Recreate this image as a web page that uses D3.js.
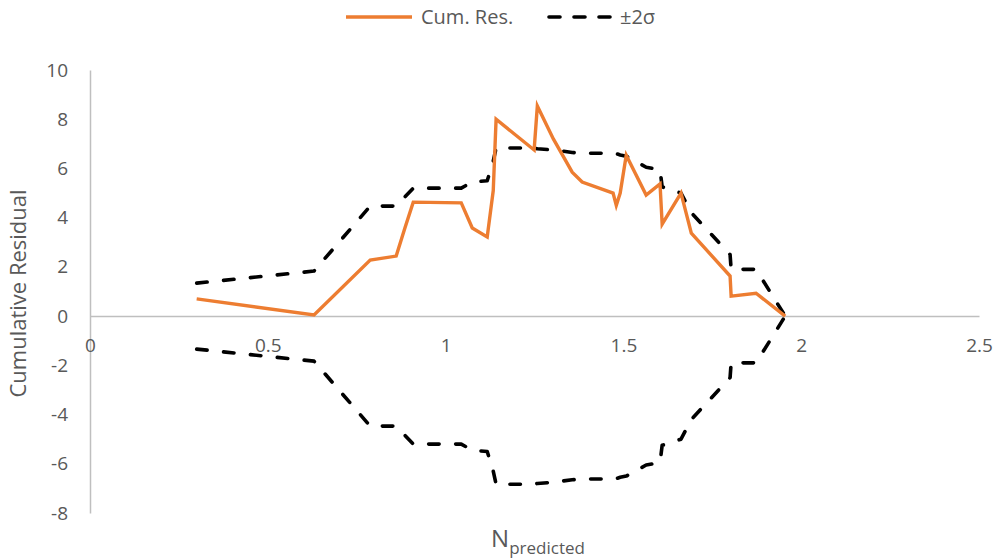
<!DOCTYPE html>
<html>
<head>
<meta charset="utf-8">
<script src="https://cdn.jsdelivr.net/npm/d3@7"></script>
<style>
  html, body { margin: 0; padding: 0; background: #fff; }
  svg { display: block; font-family: "Open Sans", "Noto Sans", sans-serif; }
</style>
</head>
<body>
<svg id="chart" width="1002" height="558"></svg>
<script>
// Predicted count at each observation
const nPredicted = [0.30, 0.63, 0.788, 0.861, 0.886, 0.909, 1.044, 1.075, 1.117, 1.134, 1.142,
  1.249, 1.258, 1.303, 1.356, 1.384, 1.471, 1.48, 1.491, 1.508, 1.564, 1.603, 1.609,
  1.662, 1.691, 1.80, 1.803, 1.873, 1.955];
// Cumulative residual
const cumRes = [0.70, 0.05, 2.28, 2.44, 3.60, 4.63, 4.60, 3.58, 3.22, 5.10, 8.00,
  6.75, 8.54, 7.20, 5.85, 5.45, 5.00, 4.50, 5.00, 6.54, 4.92, 5.37, 3.74,
  5.00, 3.37, 1.63, 0.81, 0.93, 0.00];
// Two standard deviations of the cumulative residual
const twoSigma = [1.34, 1.83, 4.47, 4.47, 4.85, 5.20, 5.20, 5.45, 5.50, 6.30, 6.83,
  6.83, 6.80, 6.75, 6.65, 6.62, 6.62, 6.60, 6.55, 6.50, 6.05, 5.95, 5.25,
  5.00, 4.20, 2.50, 1.90, 1.90, 0.00];

const xTicks = [0, 0.5, 1, 1.5, 2, 2.5];
const yTicks = [-8, -6, -4, -2, 0, 2, 4, 6, 8, 10];

const svg = d3.select("#chart");
const textColor = "#595959";
const axisColor = "#bfbfbf";
const orange = "#ed7d31";

const x = d3.scaleLinear().domain([0, 2.5]).range([90, 979]);
const y = d3.scaleLinear().domain([-8, 10]).range([513, 70]);

// Vertical axis at x = 0
const yAxis = svg.append("g")
  .attr("transform", `translate(${x(0)},0)`)
  .call(d3.axisLeft(y).tickValues(yTicks).tickSize(0).tickPadding(22).tickFormat(d => String(d)));
yAxis.select(".domain").attr("stroke", axisColor).attr("stroke-width", 1.5);
yAxis.selectAll("text").attr("fill", textColor).style("font-size", "19px")
  .style("font-family", "'Open Sans', sans-serif");

// Horizontal axis at y = 0, labels set below it
const xAxis = svg.append("g")
  .attr("transform", `translate(0,${y(0)})`)
  .call(d3.axisBottom(x).tickValues(xTicks).tickSize(0).tickPadding(22).tickFormat(d => String(d)));
xAxis.select(".domain").attr("stroke", axisColor).attr("stroke-width", 1.5);
xAxis.selectAll("text").attr("fill", textColor).style("font-size", "19px")
  .style("font-family", "'Open Sans', sans-serif");

const pts = nPredicted.map((n, i) => ({ n, r: cumRes[i], s: twoSigma[i] }));

const line = d3.line().x(d => x(d[0])).y(d => y(d[1]));

// ±2σ bounds
const dash = { stroke: "#000", "stroke-width": 3.6, "stroke-dasharray": "10.5 16.5", "stroke-linecap": "round", "stroke-linejoin": "round", fill: "none" };
[1, -1].forEach(sign => {
  const p = svg.append("path").attr("d", line(pts.map(d => [d.n, sign * d.s])));
  Object.entries(dash).forEach(([k, v]) => p.attr(k, v));
});

// Cumulative residual
svg.append("path")
  .attr("d", line(pts.map(d => [d.n, d.r])))
  .attr("fill", "none").attr("stroke", orange).attr("stroke-width", 3.4)
  .attr("stroke-linejoin", "miter");

// Axis titles
svg.append("text")
  .attr("transform", `translate(26,${(y(10) + y(-8)) / 2 + 2}) rotate(-90)`)
  .attr("text-anchor", "middle").attr("fill", textColor)
  .style("font-size", "22px").text("Cumulative Residual");

const xt = svg.append("text")
  .attr("x", 538).attr("y", 547).attr("text-anchor", "middle").attr("fill", textColor);
xt.append("tspan").style("font-size", "24px").text("N");
xt.append("tspan").attr("dy", 7).style("font-size", "17px").text("predicted");

// Legend
const lg = svg.append("g");
lg.append("line").attr("x1", 346).attr("x2", 412).attr("y1", 17).attr("y2", 17)
  .attr("stroke", orange).attr("stroke-width", 3.4);
lg.append("text").attr("x", 421).attr("y", 24).attr("fill", textColor)
  .style("font-size", "20px").text("Cum. Res.");
const ll = lg.append("line").attr("x1", 549).attr("x2", 616).attr("y1", 17).attr("y2", 17);
Object.entries(dash).forEach(([k, v]) => ll.attr(k, v));
ll.attr("stroke-dasharray", "11 14");
lg.append("text").attr("x", 620).attr("y", 24).attr("fill", textColor)
  .style("font-size", "20px").text("±2σ");
</script>
</body>
</html>
